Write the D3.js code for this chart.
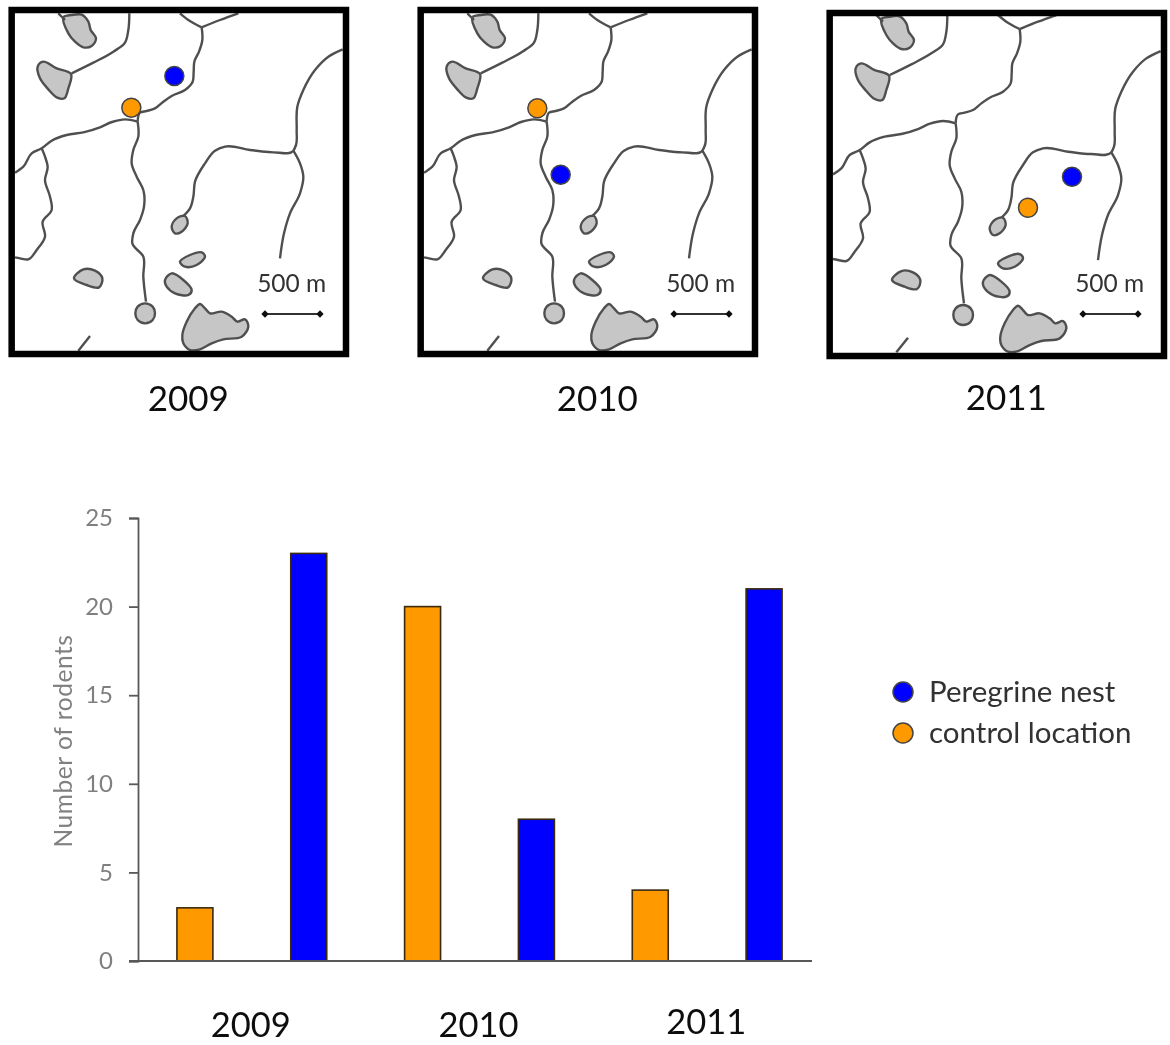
<!DOCTYPE html>
<html><head><meta charset="utf-8">
<script src="https://cdn.jsdelivr.net/npm/d3@7"></script>
<style>html,body{margin:0;background:#fff}svg{display:block}text{font-family:Lato,"Open Sans",sans-serif}</style>
</head><body><svg id="c" width="1170" height="1045"></svg>
<script>
const years=["2009","2010","2011"];
const controlValues=[3,20,4];
const nestValues=[23,8,21];
const yTicks=[0,5,10,15,20,25];
const seriesNames=["Peregrine nest","control location"];
const seriesColors=["#0000FF","#FF9900"];

// Map geometry, in map units shared by the three panels
const streams=[
 [[388,40],[385,90],[375,128],[340,155],[280,188],[215,220]],
 [[540,40],[565,60],[605,82]],
 [[715,40],[660,60],[605,82]],
 [[605,82],[607,120],[597,155],[583,185],[581,215],[578,245],[555,270],[515,288],[490,305],[465,325],[440,333],[420,338],[413,365]],
 [[413,365],[376,358],[336,366],[300,382],[250,397],[200,405],[155,422],[125,445],[95,460],[70,500],[45,518]],
 [[125,445],[135,470],[143,500],[135,540],[150,590],[155,630],[128,665],[135,710],[110,750],[85,778],[60,775],[45,772]],
 [[413,365],[415,410],[400,450],[395,490],[410,530],[430,570],[432,620],[420,660],[400,700],[397,730],[430,770],[430,830],[438,905]],
 [[1028,148],[985,170],[945,210],[910,270],[892,320],[890,390],[888,435],[880,452],[820,457],[750,450],[675,440],[645,452],[615,490],[585,545],[580,590],[570,625],[550,648]],
 [[880,452],[900,490],[910,530],[900,580],[870,640],[852,700],[840,775]],
 [[270,1008],[235,1052]],
 [[175,40],[195,60]]
];
const lakes=[
 [[190,52],[215,45],[245,44],[265,65],[272,90],[288,115],[275,138],[250,142],[225,125],[205,100]],
 [[113,200],[130,185],[170,205],[213,222],[205,265],[193,295],[170,292],[145,268],[120,235]],
 [[515,680],[530,655],[555,648],[563,670],[545,695],[525,700]],
 [[540,785],[570,765],[605,757],[615,770],[590,795],[555,800]],
 [[495,840],[515,820],[550,840],[575,870],[565,885],[525,880],[500,860]],
 [[222,835],[250,808],[285,812],[307,835],[297,862],[260,855]],
 [[435,910],[458,920],[465,940],[458,960],[435,970],[413,960],[406,940],[413,920]],
 [[547,1005],[560,965],[585,925],[600,912],[615,925],[630,940],[665,935],[695,950],[712,965],[735,958],[745,980],[725,1010],[670,1018],[635,1030],[600,1048],[570,1050],[550,1030]]
];
const nestDots=[[523,228],[455,524],[762,525]];
const controlDots=[[394,323],[385,325],[630,618]];
const panelX=[0,409,818];
const panelDy=[0,0,1.7];
const frameTop=[10,10,13];
const frameBottom=[354,354,356];
const scaleBarEnds=[795,960];

const svg=d3.select("#c");
const defs=svg.append("defs");
defs.append("filter").attr("id","soft").attr("x","-2%").attr("y","-2%").attr("width","104%").attr("height","104%")
  .append("feGaussianBlur").attr("stdDeviation",0.5);
const root=svg.append("g").attr("filter","url(#soft)");
const lineCurve=d3.line().curve(d3.curveCatmullRom.alpha(1));
const loopCurve=d3.line().curve(d3.curveCatmullRomClosed.alpha(0.5));

years.forEach((yr,i)=>{
  const mx=d3.scaleLinear().domain([0,1110]).range([panelX[i],panelX[i]+370]);
  const my=d3.scaleLinear().domain([0,1110]).range([panelDy[i],panelDy[i]+370]);
  const g=root.append("g");
  const proj=p=>[mx(p[0]),my(p[1])];
  g.selectAll(".lake").data(lakes).join("path").attr("d",d=>loopCurve(d.map(proj)))
    .attr("fill","#c6c6c6").attr("stroke","#505050").attr("stroke-width",2.4);
  g.selectAll(".stream").data(streams).join("path").attr("d",d=>lineCurve(d.map(proj)))
    .attr("fill","none").attr("stroke","#505050").attr("stroke-width",2.4);
  const sy=942/3;
  g.append("line").attr("x1",mx(scaleBarEnds[0])).attr("x2",mx(scaleBarEnds[1])).attr("y1",sy).attr("y2",sy)
    .attr("stroke","#333").attr("stroke-width",1.8);
  scaleBarEnds.forEach(u=>{
    g.append("path").attr("d",d3.symbol(d3.symbolDiamond2,34)()).attr("transform",`translate(${mx(u)},${sy})`).attr("fill","#111");
  });
  g.append("text").attr("x",mx(875)).attr("y",292).attr("text-anchor","middle")
    .attr("font-size",24.5).attr("fill","#333").text("500 m");
  g.append("rect").attr("x",mx(35)).attr("y",frameTop[i]).attr("width",mx(1038)-mx(35))
    .attr("height",frameBottom[i]-frameTop[i]).attr("fill","none").attr("stroke","#000").attr("stroke-width",6.5);
  [[nestDots[i],seriesColors[0]],[controlDots[i],seriesColors[1]]].forEach(([p,c])=>{
    g.append("circle").attr("cx",mx(p[0])).attr("cy",my(p[1])).attr("r",9.5).attr("fill",c).attr("stroke","#444").attr("stroke-width",1.5);
  });
  g.append("text").attr("x",mx(565)).attr("y",i==2?410:411).attr("text-anchor","middle")
    .attr("font-size",35).attr("fill","#111").text(yr);
});

// Bar chart
const bars=years.flatMap((y,i)=>[
  {key:y+"-c",v:controlValues[i],c:seriesColors[1]},
  {key:y+"-n",v:nestValues[i],c:seriesColors[0]}]);
const x=d3.scaleBand().domain(bars.map(d=>d.key)).range([138,821]).paddingInner(0.684).paddingOuter(0.342);
const y=d3.scaleLinear().domain([0,25]).range([961,518]);

const yAxis=d3.axisLeft(y).tickValues(yTicks).tickSize(9).tickPadding(16);
const ya=root.append("g").attr("transform","translate(138,0)").call(yAxis);
ya.selectAll("path,line").attr("stroke","#595959").attr("stroke-width",1.8);
ya.selectAll("text").attr("font-size",24).attr("fill","#7f7f7f").style("font-family",'Lato,"Open Sans",sans-serif');

root.selectAll(".bar").data(bars).join("rect")
  .attr("x",d=>x(d.key)).attr("width",x.bandwidth())
  .attr("y",d=>y(d.v)).attr("height",d=>y(0)-y(d.v))
  .attr("fill",d=>d.c).attr("stroke","#3a2a10").attr("stroke-width",1.6);

root.append("line").attr("x1",129).attr("x2",812).attr("y1",y(0)).attr("y2",y(0)).attr("stroke","#595959").attr("stroke-width",1.8);

root.append("text").attr("transform","translate(72,741) rotate(-90)").attr("text-anchor","middle")
  .attr("font-size",24.5).attr("letter-spacing",0.55).attr("fill","#808080").text("Number of rodents");

const labelY=[1037,1037,1034];
years.forEach((yr,i)=>{
  const cx=(x(yr+"-c")+x(yr+"-n")+x.bandwidth())/2;
  root.append("text").attr("x",cx-1).attr("y",labelY[i]).attr("text-anchor","middle")
    .attr("font-size",34.5).attr("fill","#111").text(yr);
});

// Legend
seriesNames.forEach((n,i)=>{
  const ly=692+i*41;
  root.append("circle").attr("cx",903).attr("cy",ly).attr("r",10).attr("fill",seriesColors[i]).attr("stroke","#444").attr("stroke-width",1.5);
  root.append("text").attr("x",929).attr("y",ly+10).attr("font-size",29.5).attr("fill","#333").text(n);
});
</script></body></html>
